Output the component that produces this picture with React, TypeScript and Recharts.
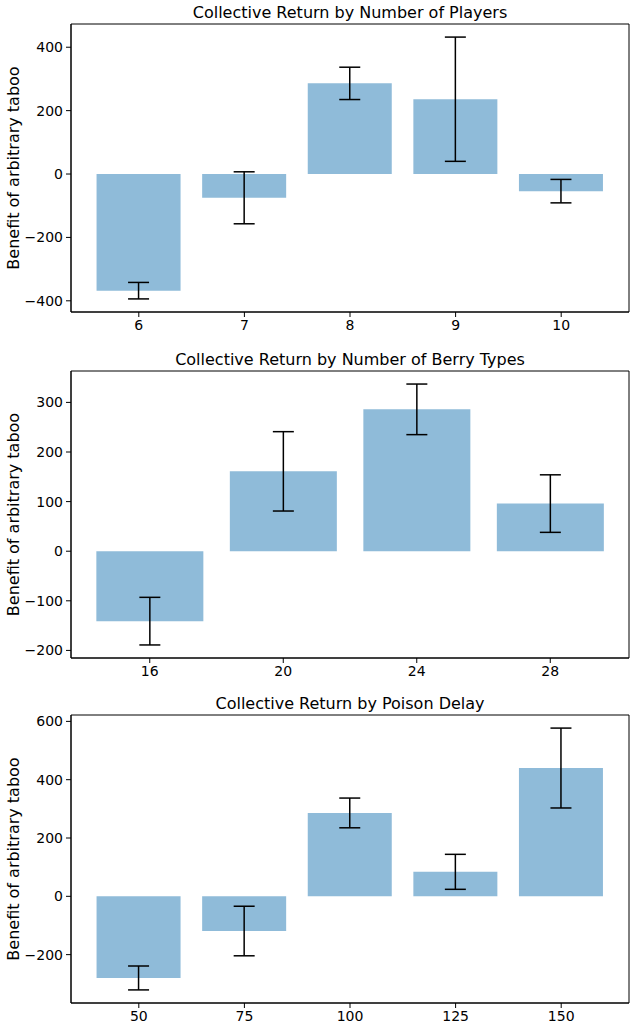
import { BarChart, Bar, XAxis, YAxis, ErrorBar, Label, CartesianGrid } from "recharts";

const FONT = "DejaVu Sans, sans-serif";
const BAR_COLOR = "#1f77b4";

// Number of players
const playerLabels = ["6", "7", "8", "9", "10"];
const playerMeans = [-368, -75, 286, 236, -54];
const playerErrs = [26, 82, 51, 196, 37];
const playerTicks = [-400, -200, 0, 200, 400];

// Number of berry types
const berryLabels = ["16", "20", "24", "28"];
const berryMeans = [-141, 161, 286, 96];
const berryErrs = [48, 80, 51, 58];
const berryTicks = [-200, -100, 0, 100, 200, 300];

// Poison delay
const delayLabels = ["50", "75", "100", "125", "150"];
const delayMeans = [-280, -119, 286, 84, 440];
const delayErrs = [41, 85, 51, 60, 137];
const delayTicks = [-200, 0, 200, 400, 600];

// matplotlib-style autoscale: data range incl. error bars, 5% margin
function autoDomain(means: number[], errs: number[]): [number, number] {
  const lo = Math.min(0, ...means.map((m, i) => m - errs[i]));
  const hi = Math.max(0, ...means.map((m, i) => m + errs[i]));
  const pad = (hi - lo) * 0.05;
  return [lo - pad, hi + pad];
}

const fmt = (v: number) => String(v).replace("-", "\u2212");

// frame lines on the plot-area edges (matplotlib spines)
const hEdges = ({ offset }: any) => [offset.top, offset.top + offset.height];
const vEdges = ({ offset }: any) => [offset.left, offset.left + offset.width];

interface PanelProps {
  title: string;
  labels: string[];
  means: number[];
  errs: number[];
  ticks: number[];
  height: number;
  top: number;
  xPad: number;
}

function Panel({ title, labels, means, errs, ticks, height, top, xPad }: PanelProps) {
  const data = labels.map((label, i) => ({ label, value: means[i], err: errs[i] }));
  const domain = autoDomain(means, errs);
  return (
    <div style={{ position: "relative", width: 640, height }}>
      <div
        style={{
          position: "absolute",
          left: 71,
          width: 558,
          top: top - 6 - 13.5,
          lineHeight: "16px",
          fontSize: 16,
          fontFamily: FONT,
          color: "#000",
          textAlign: "center",
          whiteSpace: "nowrap",
        }}
      >
        {title}
      </div>
      <BarChart
        width={640}
        height={height}
        data={data}
        margin={{ top, right: 11, bottom: 0, left: 0 }}
        barCategoryGap="10%"
      >
        <CartesianGrid
          stroke="#000"
          strokeWidth={1}
          horizontalCoordinatesGenerator={hEdges}
          verticalCoordinatesGenerator={vEdges}
        />
        <XAxis
          dataKey="label"
          height={28}
          padding={{ left: xPad, right: xPad }}
          tickSize={5}
          tickMargin={3}
          stroke="#000"
          tick={{ fill: "#000", fontSize: 14, fontFamily: FONT }}
        />
        <YAxis
          type="number"
          domain={domain}
          ticks={ticks}
          allowDataOverflow
          width={71}
          tickSize={5}
          tickMargin={3}
          stroke="#000"
          tickFormatter={fmt}
          tick={{ fill: "#000", fontSize: 14, fontFamily: FONT }}
        >
          <Label
            value="Benefit of arbitrary taboo"
            angle={-90}
            position="insideLeft"
            offset={13}
            fill="#000"
            fontSize={16}
            fontFamily={FONT}
            style={{ textAnchor: "middle" }}
          />
        </YAxis>
        <Bar dataKey="value" fill={BAR_COLOR} fillOpacity={0.5} isAnimationActive={false}>
          <ErrorBar
            dataKey="err"
            direction="y"
            width={10.5}
            stroke="#000"
            strokeWidth={1.5}
            isAnimationActive={false}
          />
        </Bar>
      </BarChart>
    </div>
  );
}

export default function App() {
  return (
    <div style={{ position: "absolute", left: 0, top: 0, width: 640, height: 1031, background: "#fff" }}>
      <Panel
        title="Collective Return by Number of Players"
        labels={playerLabels}
        means={playerMeans}
        errs={playerErrs}
        ticks={playerTicks}
        height={340}
        top={24}
        xPad={15}
      />
      <Panel
        title="Collective Return by Number of Berry Types"
        labels={berryLabels}
        means={berryMeans}
        errs={berryErrs}
        ticks={berryTicks}
        height={346}
        top={31}
        xPad={12}
      />
      <Panel
        title="Collective Return by Poison Delay"
        labels={delayLabels}
        means={delayMeans}
        errs={delayErrs}
        ticks={delayTicks}
        height={345}
        top={29}
        xPad={15}
      />
    </div>
  );
}
